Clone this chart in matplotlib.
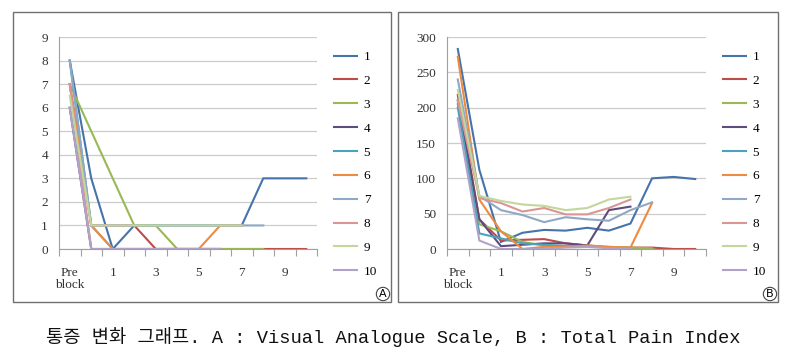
import numpy as np
import matplotlib
matplotlib.use("Agg")
import matplotlib.pyplot as plt
from matplotlib.patches import Rectangle

nan = np.nan
categories = ["Pre\nblock", "0", "1", "2", "3", "4", "5", "6", "7", "8", "9", "10"]
series_names = ["1", "2", "3", "4", "5", "6", "7", "8", "9", "10"]
colors = ["#4674AA", "#BE4B48", "#98B954", "#5E4C7E", "#4AA3BC",
          "#EE8B40", "#8EA8C6", "#D99694", "#C3D69B", "#B0A2C8"]

# A : Visual Analogue Scale
vas = [
    [8, 3, 0, 1, 1, 1, 1, 1, 1, 3, 3, 3],
    [7, 1, 1, 1, 0, 0, 0, 0, 0, 0, 0, 0],
    [7, 5, 3, 1, 1, 0, 0, 0, 0, 0, nan, nan],
    [6, 0, 0, 0, 0, 0, 0, 0, nan, nan, nan, nan],
    [8, 1, 0, 0, 0, 0, 0, 0, nan, nan, nan, nan],
    [7, 1, 0, 0, 0, 0, 0, 1, 1, nan, nan, nan],
    [8, 1, 1, 1, 1, 1, 1, 1, 1, 1, nan, nan],
    [7, 0, 0, 0, 0, 0, 0, 0, nan, nan, nan, nan],
    [6.5, 1, 1, 1, 1, 1, 1, 1, 1, nan, nan, nan],
    [6, 0, 0, 0, 0, 0, 0, 0, nan, nan, nan, nan],
]

# B : Total Pain Index
tpi = [
    [283, 112, 10, 23, 27, 26, 30, 26, 36, 100, 102, 99],
    [218, 42, 12, 13, 14, 8, 5, 2, 2, 2, 0, 0],
    [205, 35, 25, 10, 5, 3, 5, 3, 2, 1, nan, nan],
    [210, 42, 4, 6, 8, 8, 5, 55, 60, nan, nan, nan],
    [200, 22, 15, 8, 6, 4, 4, 2, nan, nan, nan, nan],
    [272, 70, 25, 0, 3, 3, 5, 3, 2, 65, nan, nan],
    [240, 75, 55, 48, 38, 45, 42, 40, 55, 66, nan, nan],
    [210, 72, 65, 53, 58, 49, 49, 58, 70, nan, nan, nan],
    [225, 75, 68, 63, 61, 55, 58, 70, 74, nan, nan, nan],
    [185, 12, 0, 0, 0, 2, 3, 1, 0, nan, nan, nan],
]

serif = ["Liberation Serif", "DejaVu Serif"]
W, H = 787, 364
fig = plt.figure(figsize=(W / 100, H / 100), dpi=100)


def px(x0, y0, x1, y1):
    return [x0 / W, 1 - y1 / H, (x1 - x0) / W, (y1 - y0) / H]


def panel(rect, data, ymax, ystep, letter, box):
    ax = fig.add_axes(px(*rect))
    x = np.arange(len(categories))
    for vals, name, c in zip(data, series_names, colors):
        ax.plot(x, vals, color=c, lw=1.5, label=name, solid_joinstyle="miter")
    ax.set_xlim(-0.5, len(categories) - 0.5)
    ax.set_ylim(0, ymax)
    ax.set_yticks(np.arange(0, ymax + 1, ystep))
    ax.grid(axis="y", color="#CCCCCC", lw=0.9)
    ax.set_axisbelow(True)
    for s in ["top", "right"]:
        ax.spines[s].set_visible(False)
    for s in ["left", "bottom"]:
        ax.spines[s].set_color("#A0A0A0")
    ax.set_xticks(np.arange(-0.5, len(categories)), labels=[])
    ax.set_xticks(x[::2], labels=categories[::2], minor=True)
    ax.tick_params(axis="x", which="major", length=5, color="#A0A0A0")
    ax.tick_params(axis="x", which="minor", length=0, pad=13)
    ax.tick_params(axis="y", length=0, pad=8)
    for lab in ax.get_xticklabels(minor=True) + ax.get_yticklabels():
        lab.set_fontfamily(serif)
        lab.set_fontsize(9.5)
        lab.set_color("#333333")
        lab.set_multialignment("center")
        lab.set_linespacing(1.0)
    ax.legend(loc="upper left", bbox_to_anchor=(1.02, 0.99), frameon=False,
              handlelength=1.75, labelspacing=0.88, handletextpad=0.5,
              prop={"family": serif, "size": 9.5})
    fig.patches.append(Rectangle((box[0] / W, 1 - box[3] / H),
                                 (box[2] - box[0]) / W, (box[3] - box[1]) / H,
                                 transform=fig.transFigure, fill=False,
                                 edgecolor="#707070", lw=1))
    fig.text((box[2] - 8) / W, 1 - (box[3] - 8) / H, letter, ha="center", va="center",
             fontsize=8, family="DejaVu Sans",
             bbox=dict(boxstyle="circle,pad=0.15", fc="white", ec="#444444", lw=0.8))
    return ax


panel((59, 37, 317, 249), vas, 9, 1, "A", (13, 12, 391, 302))
panel((447, 37, 706, 249), tpi, 300, 50, "B", (398, 12, 778, 302))

fig.text(0.5, 1 - 337 / H, "통증 변화 그래프. A : Visual Analogue Scale, B : Total Pain Index",
         ha="center", va="center", fontsize=13.5,
         family=["Liberation Mono", "Noto Sans CJK KR"], color="#111111")

fig.savefig("out.png", dpi=100, facecolor="white")
